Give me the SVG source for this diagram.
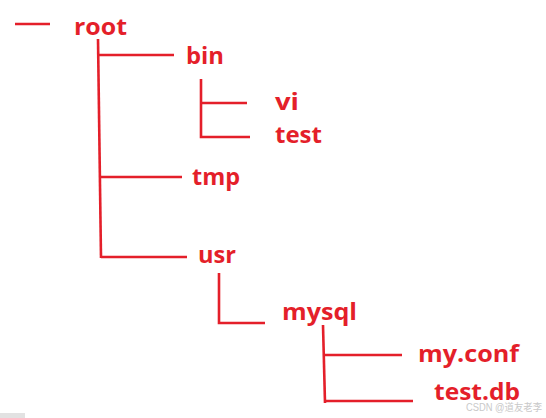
<svg xmlns="http://www.w3.org/2000/svg" width="546" height="418" viewBox="0 0 546 418">
<style>
.c{stroke:#e41f2a;stroke-width:2.6;fill:none;stroke-linecap:butt}
.t{font-family:"Open Sans","Noto Sans","Liberation Sans",sans-serif;font-weight:bold;font-size:24px;fill:#e41f2a}
.w{font-family:"Liberation Sans","Noto Sans CJK SC",sans-serif;font-size:10px;fill:#c9c9c9}
</style>
<rect width="546" height="418" fill="#ffffff"/>
<g id="connectors">
<path class="c" d="M15 24H50"/>
<path class="c" d="M98 39L101 258"/>
<path class="c" d="M98 55H174"/>
<path class="c" d="M100 177H182"/>
<path class="c" d="M101 257H187"/>
<path class="c" d="M201 79V137H250"/>
<path class="c" d="M201 103H247"/>
<path class="c" d="M219 273V323H265"/>
<path class="c" d="M323 325L325 403"/>
<path class="c" d="M323 355H402"/>
<path class="c" d="M325 401H413"/>
</g>
<g id="root"><text class="t" x="74" y="35" textLength="53" lengthAdjust="spacingAndGlyphs">root</text></g>
<g id="bin"><text class="t" x="186" y="64" textLength="38" lengthAdjust="spacingAndGlyphs">bin</text></g>
<g id="vi"><text class="t" x="275" y="110" textLength="24" lengthAdjust="spacingAndGlyphs">vi</text></g>
<g id="test"><text class="t" x="275" y="143" textLength="47" lengthAdjust="spacingAndGlyphs">test</text></g>
<g id="tmp"><text class="t" x="192" y="185" textLength="48" lengthAdjust="spacingAndGlyphs">tmp</text></g>
<g id="usr"><text class="t" x="198" y="263" textLength="38" lengthAdjust="spacingAndGlyphs">usr</text></g>
<g id="mysql"><text class="t" x="282" y="320" textLength="75" lengthAdjust="spacingAndGlyphs">mysql</text></g>
<g id="myconf"><text class="t" x="418" y="362" textLength="101" lengthAdjust="spacingAndGlyphs">my.conf</text></g>
<g id="testdb"><text class="t" x="434" y="400" textLength="86" lengthAdjust="spacingAndGlyphs">test.db</text></g>
<text class="w" x="466" y="411" textLength="76" lengthAdjust="spacingAndGlyphs">CSDN @道友老李</text>
<rect x="0" y="413" width="25" height="5" fill="#e2e2e2"/>
</svg>
